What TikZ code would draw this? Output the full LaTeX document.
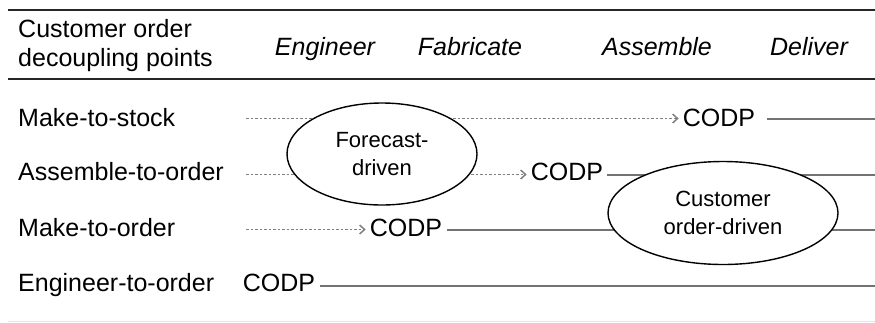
\documentclass[tikz,border=0pt]{standalone}
\usepackage{fontspec}
\setmainfont{Liberation Sans}
\usetikzlibrary{shapes.geometric,arrows.meta}
\begin{document}
\begin{tikzpicture}[x=1pt,y=-1pt,
  lbl/.style={anchor=base west,inner sep=0pt,font=\fontsize{25}{29}\selectfont},
  hdr/.style={anchor=base,inner sep=0pt,font=\fontsize{25}{29}\selectfont\itshape},
  codp/.style={anchor=base,inner sep=0pt,font=\fontsize{25}{29}\selectfont},
  solidline/.style={draw=black!55,line width=2pt},
  dotline/.style={draw=black!50,line width=1.6pt,dash pattern=on 2.5pt off 2pt,
    -{Straight Barb[length=5pt,width=9pt,line width=1.5pt]}},
  blob/.style={ellipse,draw,line width=1.4pt,fill=white,inner sep=0pt,align=center,
    font=\fontsize{22}{28}\selectfont},
  rule/.style={draw=black!85,line width=#1}]
\useasboundingbox (0,0) rectangle (875,322);
% rules
\coordinate (r1a) at (8,10); \coordinate (r1b) at (875,10);
\coordinate (r2a) at (8,79); \coordinate (r2b) at (875,79);
\coordinate (r3a) at (8,321); \coordinate (r3b) at (875,321);
\draw[rule=2.8pt] (r1a) -- (r1b);
\draw[rule=2.4pt] (r2a) -- (r2b);
\draw[draw=black!10,line width=1pt] (r3a) -- (r3b);
% header
\node[lbl] (h0) at (18,37) {Customer order};
\node[lbl] (h0b) at (18,66) {decoupling points};
\node[hdr] (h1) at (325,55) {Engineer};
\node[hdr] (h2) at (470,55) {Fabricate};
\node[hdr] (h3) at (657,55) {Assemble};
\node[hdr] (h4) at (809,55) {Deliver};
% row labels
\node[lbl] (l1) at (18,126) {Make-to-stock};
\node[lbl] (l2) at (18,180) {Assemble-to-order};
\node[lbl] (l3) at (18,236) {Make-to-order};
\node[lbl] (l4) at (18,291) {Engineer-to-order};
% CODP nodes
\node[codp] (c1) at (719,126) {CODP};
\node[codp] (c2) at (567,180) {CODP};
\node[codp] (c3) at (406,236) {CODP};
\node[codp] (c4) at (279,291) {CODP};
% line coordinates
\coordinate (s1) at (246,118.5); \coordinate (e1) at (875,118.5);
\coordinate (s2) at (246,174.5); \coordinate (e2) at (875,174.5);
\coordinate (s3) at (246,229.5); \coordinate (e3) at (875,229.5);
\coordinate (e4) at (875,285.5);
% dotted (forecast-driven) flows
\draw[dotline] (s1) -- ([xshift=-4pt]s1 -| c1.west);
\draw[dotline] (s2) -- ([xshift=-4pt]s2 -| c2.west);
\draw[dotline] (s3) -- ([xshift=-4pt]s3 -| c3.west);
% solid (customer order-driven) flows
\draw[solidline] ([xshift=12pt]e1 -| c1.east) -- (e1);
\draw[solidline] ([xshift=4pt]e2 -| c2.east) -- (e2);
\draw[solidline] ([xshift=5pt]e3 -| c3.east) -- (e3);
\draw[solidline] ([xshift=5pt]e4 -| c4.east) -- (e4);
% ellipses
\node[blob,minimum width=190pt,minimum height=102pt] (fd) at (382,154) {Forecast-\\driven};
\node[blob,minimum width=230pt,minimum height=103pt] (cd) at (723,213) {Customer\\order-driven};
\end{tikzpicture}
\end{document}
